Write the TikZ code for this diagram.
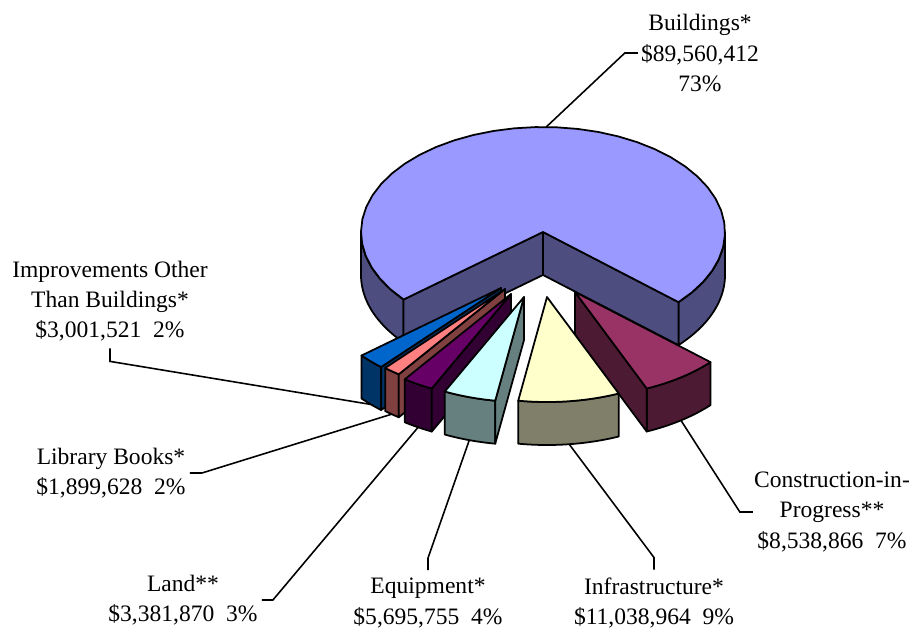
\documentclass[tikz,border=0pt]{standalone}
\usepackage{fontspec}
\setmainfont{Liberation Serif}
\usetikzlibrary{calc}
\usepackage{xcolor}
\definecolor{bldtop}{HTML}{9999FF}
\definecolor{bldside}{HTML}{4D4D80}
\definecolor{imptop}{HTML}{0066CC}
\definecolor{impside}{HTML}{003366}
\definecolor{libtop}{HTML}{FF8080}
\definecolor{libside}{HTML}{804040}
\definecolor{landtop}{HTML}{660066}
\definecolor{landside}{HTML}{330033}
\definecolor{eqtop}{HTML}{CCFFFF}
\definecolor{eqside}{HTML}{668080}
\definecolor{inftop}{HTML}{FFFFCC}
\definecolor{infside}{HTML}{80806A}
\definecolor{contop}{HTML}{993366}
\definecolor{conside}{HTML}{4D1A33}

% pie geometry (picture pixels)
\newcommand{\pieRx}{182}
\newcommand{\pieRy}{105}
\newcommand{\pieH}{43}
% outer wall: centre x, centre y, from angle, to angle, colour
\newcommand{\piewall}[5]{%
  \filldraw[pieedge, fill=#5] plot[domain=#3:#4] ({#1+\pieRx*cos(\x)},{#2-\pieRy*sin(\x)})
    -- plot[domain=#4:#3] ({#1+\pieRx*cos(\x)},{#2+\pieH-\pieRy*sin(\x)}) -- cycle;}
% cut face at one angle
\newcommand{\piecut}[4]{%
  \filldraw[pieedge, fill=#4] (#1,#2) -- ({#1+\pieRx*cos(#3)},{#2-\pieRy*sin(#3)})
    -- ({#1+\pieRx*cos(#3)},{#2+\pieH-\pieRy*sin(#3)}) -- (#1,{#2+\pieH}) -- cycle;}
% top face
\newcommand{\pietop}[5]{%
  \filldraw[pieedge, fill=#5] (#1,#2) -- plot[domain=#3:#4] ({#1+\pieRx*cos(\x)},{#2-\pieRy*sin(\x)}) -- cycle;}

\begin{document}
\begin{tikzpicture}[x=0.02cm, y=-0.02cm,
    pieedge/.style={draw=black, line width=1pt, line join=round, samples=40},
    lbl/.style={align=center, inner sep=0pt, font=\fontsize{13.4}{17.1}\selectfont},
    leader/.style={draw=black, line width=0.9pt}
  ]
  \useasboundingbox (0,0) rectangle (912,629);

  % Buildings
  \piewall{543}{232}{-41.9}{0}{bldside}
  \piewall{543}{232}{180}{220}{bldside}
  \piecut{543}{232}{-41.9}{bldside}
  \piecut{543}{232}{220}{bldside}
  \pietop{543}{232}{-41.9}{220}{bldtop}

  % Improvements Other Than Buildings
  \piewall{501}{288}{220}{228.8}{impside}
  \piecut{501}{288}{228.8}{impside}
  \pietop{501}{288}{220}{228.8}{imptop}

  % Library Books
  \piewall{505}{289}{228.8}{234.3}{libside}
  \piecut{505}{289}{234.3}{libside}
  \pietop{505}{289}{228.8}{234.3}{libtop}

  % Land
  \piewall{511}{294}{234.3}{244.2}{landside}
  \piecut{511}{294}{244.2}{landside}
  \pietop{511}{294}{234.3}{244.2}{landtop}

  % Construction-in-Progress
  \piewall{575}{292}{293.2}{318.1}{conside}
  \piecut{575}{292}{293.2}{conside}
  \pietop{575}{292}{293.2}{318.1}{contop}

  % Equipment
  \piewall{524}{297}{244.2}{260.9}{eqside}
  \piecut{524}{297}{260.9}{eqside}
  \pietop{524}{297}{244.2}{260.9}{eqtop}

  % Infrastructure
  \piewall{547}{297}{260.9}{293.2}{infside}
  \pietop{547}{297}{260.9}{293.2}{inftop}

  % leader ends on the slices
  \coordinate (bldPt) at ({543+\pieRx*cos(89)},{232-\pieRy*sin(89)});
  \coordinate (impPt) at ({501+\pieRx*cos(224.4)},{288+\pieH-\pieRy*sin(224.4)});
  \coordinate (libPt) at ({505+\pieRx*cos(231.5)},{289+\pieH-\pieRy*sin(231.5)});
  \coordinate (landPt) at ({511+\pieRx*cos(239.3)},{294+\pieH-\pieRy*sin(239.3)});
  \coordinate (eqPt) at ({524+\pieRx*cos(252.5)},{297+\pieH-\pieRy*sin(252.5)});
  \coordinate (infPt) at ({547+\pieRx*cos(277)},{297+\pieH-\pieRy*sin(277)});
  \coordinate (conPt) at ({575+\pieRx*cos(305.6)},{292+\pieH-\pieRy*sin(305.6)});

  % labels
  \node[lbl] (bldLbl) at (700,53) {Buildings*\\\$89,560,412\\73\%};
  \node[lbl] (impLbl) at (110,301) {Improvements Other\\Than Buildings*\\\$3,001,521\ \ 2\%};
  \node[lbl] (libLbl) at (111,473) {Library Books*\\\$1,899,628\ \ 2\%};
  \node[lbl] (landLbl) at (183,600) {Land**\\\$3,381,870\ \ 3\%};
  \node[lbl] (eqLbl) at (428,603) {Equipment*\\\$5,695,755\ \ 4\%};
  \node[lbl] (infLbl) at (654,603) {Infrastructure*\\\$11,038,964\ \ 9\%};
  \node[lbl] (conLbl) at (832,512) {Construction-in-\\Progress**\\\$8,538,866\ \ 7\%};

  % leader lines
  \draw[leader] (bldLbl.west) ++(-3,0) -- ++(-13,0) -- (bldPt);
  \draw[leader] (impLbl.south) ++(0,7) -- ++(0,13) -- (impPt);
  \draw[leader] (libLbl.east) ++(4,0) -- ++(12,0) -- (libPt);
  \draw[leader] (landLbl.east) ++(4,0) -- ++(11,0) -- (landPt);
  \draw[leader] (eqLbl.north) ++(0,-8) -- ++(0,-12) -- (eqPt);
  \draw[leader] (infLbl.north) ++(0,-8) -- ++(0,-12) -- (infPt);
  \draw[leader] (conLbl.west) ++(-1,0) -- ++(-13,0) -- (conPt);
\end{tikzpicture}
\end{document}
